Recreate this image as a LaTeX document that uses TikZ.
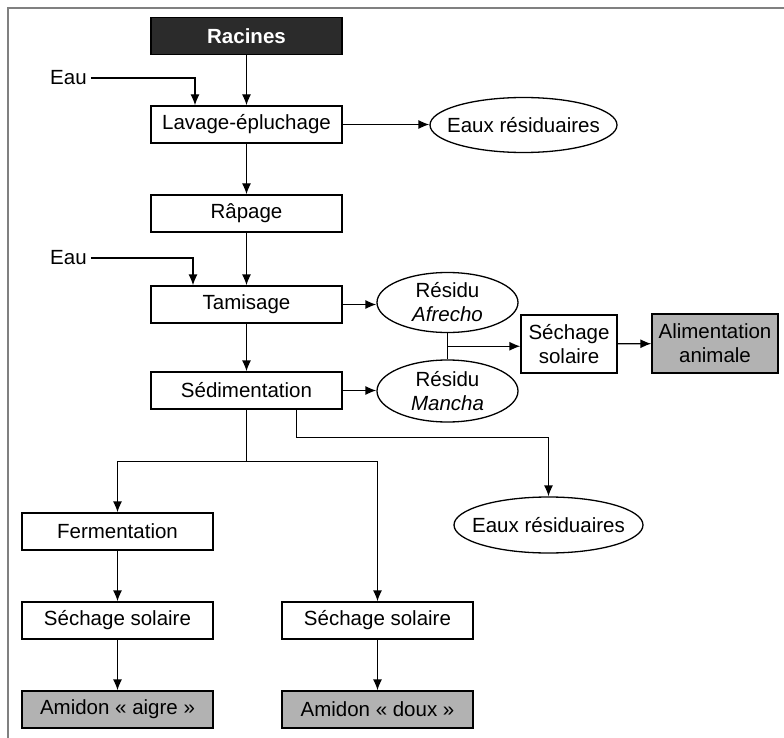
\documentclass[tikz,border=0pt]{standalone}
\usepackage{fontspec}
\setmainfont{Liberation Sans}
\usetikzlibrary{shapes.geometric,arrows.meta,calc}
\definecolor{darkfill}{HTML}{2B2B2B}
\definecolor{prodfill}{HTML}{B2B2B2}
\definecolor{framecol}{HTML}{808080}
\begin{document}
\begin{tikzpicture}[x=1pt,y=-1pt,
 every node/.style={font=\fontsize{20.5}{24}\selectfont},
 box/.style={draw, line width=1.3pt, minimum width=191pt, minimum height=37pt, inner sep=0pt},
 ell/.style={draw, ellipse, line width=1.3pt, inner sep=0pt},
 lbl/.style={inner sep=0pt},
 arr/.style={-{Latex[length=11pt,width=9pt]}, line width=1.3pt},
 ln/.style={line width=1.3pt}]
\useasboundingbox (0,0) rectangle (784,738);
\draw[framecol, line width=2.2pt] (8,738) -- (8,8) -- (784,8);

\node[box, fill=darkfill, text=white, font=\fontsize{20.5}{24}\selectfont\bfseries] (rac) at (246.5,36) {Racines};
\node[box] (lav) at (246.5,124.5) {Lavage-épluchage};
\node[box] (rap) at (246.5,213.5) {Râpage};
\node[box] (tam) at (246.5,304.5) {Tamisage};
\node[box] (sed) at (246.5,390.5) {Sédimentation};
\node[box] (fer) at (117.5,531.5) {Fermentation};
\node[box] (sl) at (117.5,620.5) {Séchage solaire};
\node[box, fill=prodfill] (aa) at (117.5,709.5) {Amidon « aigre »};
\node[box] (sr) at (377.5,620.5) {Séchage solaire};
\node[box, fill=prodfill] (ad) at (377.5,709.5) {Amidon « doux »};
\node[box, minimum width=96pt, minimum height=58pt, align=center] (sm) at (569,344) {Séchage\\solaire};
\node[box, fill=prodfill, minimum width=126pt, minimum height=59pt, align=center] (alim) at (715,343.5) {Alimentation\\animale};

\node[ell, minimum width=187pt, minimum height=55pt, label={[lbl]center:Eaux résiduaires}] (e1) at (523.5,125) {};
\node[ell, minimum width=141pt, minimum height=60pt, label={[lbl,align=center]center:Résidu\\\textit{Afrecho}}] (afr) at (447.5,302.5) {};
\node[ell, minimum width=141pt, minimum height=62pt, label={[lbl,align=center]center:Résidu\\\textit{Mancha}}] (man) at (447.5,391) {};
\node[ell, minimum width=189pt, minimum height=56pt, label={[lbl]center:Eaux résiduaires}] (e2) at (548.5,525) {};

\node[lbl, anchor=west] (eau1) at (50,78) {Eau};
\node[lbl, anchor=west] (eau2) at (50,258) {Eau};

\draw[arr] (rac) -- (lav);
\draw[arr] ([xshift=4pt]eau1.east) -| ([xshift=-51.5pt]lav.north);
\draw[arr] (lav.east) -- (lav.east -| e1.west);
\draw[arr] (lav) -- (rap);
\draw[arr] (rap) -- (tam);
\draw[arr] ([xshift=4pt]eau2.east) -| ([xshift=-53.5pt]tam.north);
\draw[arr] (tam.east) -- (tam.east -| afr.west);
\draw[arr] (tam) -- (sed);
\draw[arr] (sed.east) -- (sed.east -| man.west);
\coordinate (j) at ($(afr.south)!0.5!(man.north)$);
\draw[ln] (afr.south) -- (man.north);
\draw[arr] (j) -- (j -| sm.west);
\draw[arr] (sm) -- (alim);
\coordinate (w) at ([xshift=50pt]sed.south);
\draw[arr] (w) -- ++(0,28) -| (e2.north);
\coordinate (s) at ($(sed.south)+(0,52)$);
\draw[ln] (sed.south) -- (s);
\draw[arr] (s) -| (fer.north);
\draw[arr] (s) -| (sr.north);
\draw[arr] (fer) -- (sl);
\draw[arr] (sl) -- (aa);
\draw[arr] (sr) -- (ad);
\end{tikzpicture}
\end{document}
